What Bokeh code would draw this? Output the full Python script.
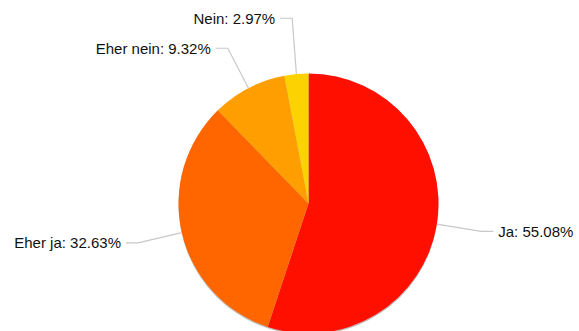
import math
from bokeh.plotting import figure
from bokeh.models import Range1d, ColumnDataSource
from bokeh.embed import file_html
from bokeh.resources import INLINE
from bokeh.core.properties import value

# ---- data ----
categories = ["Ja", "Eher ja", "Eher nein", "Nein"]
percent = [55.08, 32.63, 9.32, 2.97]
colors = ["#FF0F00", "#FF6600", "#FF9E01", "#FCD202"]

# ---- layout ----
W, H = 579, 331
cx, cy_px, r = 308, 203, 130
cy = H - cy_px
label_extra = 45
label_nudge = [0, 0, 0, 11]  # px upward
hook = 12
gap = 5

total = sum(percent)
starts, ends, mids = [], [], []
acc = 0.0
for v in percent:
    f0 = acc / total
    acc += v
    f1 = acc / total
    starts.append(math.pi / 2 - 2 * math.pi * f0)
    ends.append(math.pi / 2 - 2 * math.pi * f1)
    mids.append(2 * math.pi * (f0 + f1) / 2)  # clockwise from top

p = figure(width=W, height=H, x_range=Range1d(0, W), y_range=Range1d(0, H),
           output_backend="svg", toolbar_location=None, min_border=0,
           x_axis_type=None, y_axis_type=None)
p.grid.visible = False
p.outline_line_color = None
p.background_fill_color = "white"

# shadow
p.circle(x=[cx], y=[cy - 1.5], radius=r, fill_color="black", fill_alpha=0.25, line_color=None)

src = ColumnDataSource(dict(start=starts, end=ends, color=colors))
p.wedge(x=cx, y=cy, radius=r, start_angle="start", end_angle="end", direction="clock",
        fill_color="color", line_color=None, source=src)

# labels
lx, ly, tx, ty, texts, aligns = [], [], [], [], [], []
for i, (c, v, m) in enumerate(zip(categories, percent, mids)):
    ex = cx + r * math.sin(m)
    ey = cy + r * math.cos(m)
    bx = cx + (r + label_extra) * math.sin(m)
    by = cy + (r + label_extra) * math.cos(m) + label_nudge[i]
    side = 1 if math.sin(m) >= 0 else -1
    hx = bx + side * hook
    lx.append([ex, bx, hx])
    ly.append([ey, by, by])
    tx.append(hx + side * gap)
    ty.append(by)
    texts.append(f"{c}: {v:.2f}%")
    aligns.append("left" if side > 0 else "right")

p.multi_line(xs=lx, ys=ly, line_color="#c8c8c8", line_width=1.2)
tsrc = ColumnDataSource(dict(x=tx, y=ty, text=texts, align=aligns))
p.text(x="x", y="y", text="text", text_align="align", text_baseline="middle",
       text_font=value("Liberation Sans"), text_font_size="15px", text_color="#111111",
       source=tsrc)

open("out.html", "w").write(file_html(p, INLINE))
